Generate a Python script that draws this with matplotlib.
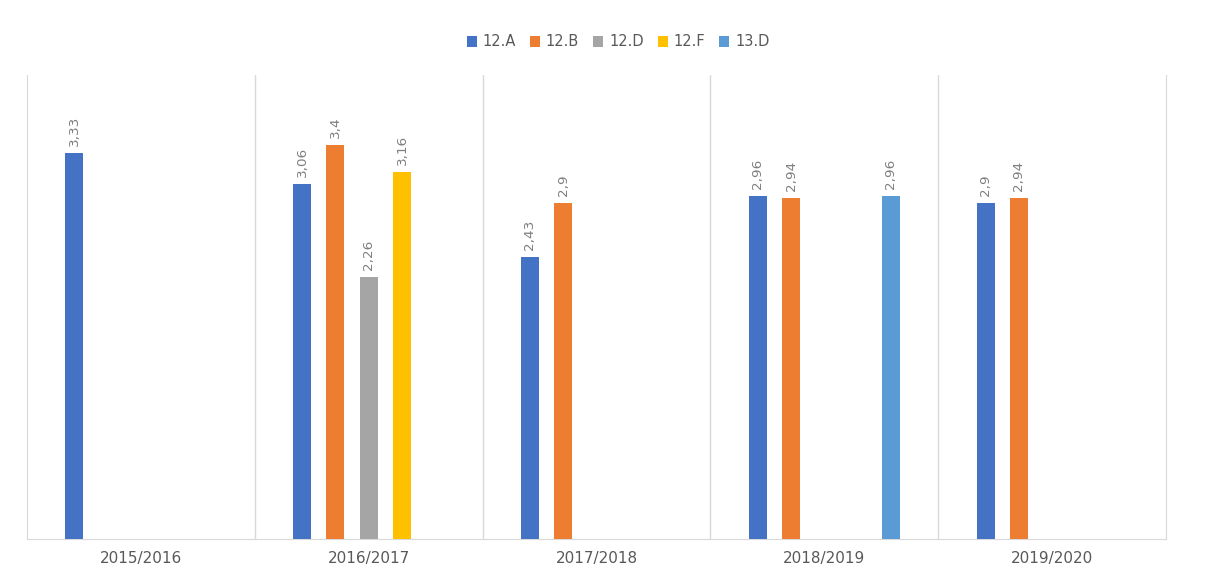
import matplotlib
matplotlib.use("Agg")
import matplotlib.pyplot as plt
from matplotlib.patches import Patch
import numpy as np

categories = ["2015/2016", "2016/2017", "2017/2018", "2018/2019", "2019/2020"]
series_names = ["12.A", "12.B", "12.D", "12.F", "13.D"]
values = {
    "12.A": [3.33, 3.06, 2.43, 2.96, 2.90],
    "12.B": [None, 3.40, 2.90, 2.94, 2.94],
    "12.D": [None, 2.26, None, None, None],
    "12.F": [None, 3.16, None, None, None],
    "13.D": [None, None, None, 2.96, None],
}
colors = ["#4472C4", "#ED7D31", "#A5A5A5", "#FFC000", "#5B9BD5"]

fig = plt.figure(figsize=(12.14, 5.71), dpi=100)
ax = fig.add_axes([27/1214, 32/571, (1166-27)/1214, (539-75)/571])

x = np.arange(len(categories))
slot = 0.146
width = 0.079
for k, name in enumerate(series_names):
    for i, v in enumerate(values[name]):
        if v is None:
            continue
        xi = x[i] + (k - 2) * slot
        ax.bar(xi, v, width=width, color=colors[k], zorder=3)
        lbl = f"{v:.2f}".rstrip("0").rstrip(".").replace(".", ",")
        ax.annotate(lbl, (xi, v), xytext=(0, 5), textcoords="offset points",
                    rotation=90, ha="center", va="bottom", fontsize=9.7,
                    color="#7F7F7F")

ax.set_xlim(-0.5, len(categories) - 0.5)
ax.set_ylim(0, 4)
ax.set_yticks([])
ax.set_xticks(x)
ax.set_xticklabels(categories, fontsize=11, color="#595959")
ax.tick_params(axis="x", length=0, pad=9)
for b in np.arange(0.5, len(categories) - 1, 1.0):
    ax.axvline(b, color="#D9D9D9", lw=1, zorder=1)
ax.spines["top"].set_visible(False)
for s in ["left", "right", "bottom"]:
    ax.spines[s].set_color("#D9D9D9")

handles = [Patch(facecolor=c, label=n) for c, n in zip(colors, series_names)]
fig.legend(handles=handles, loc="center", bbox_to_anchor=(618/1214, 1 - 42/571),
           ncol=5, frameon=False, fontsize=10.5, handlelength=0.7, handleheight=0.7,
           handletextpad=0.4, columnspacing=0.95, labelcolor="#595959")

fig.savefig("out.png", dpi=100)
